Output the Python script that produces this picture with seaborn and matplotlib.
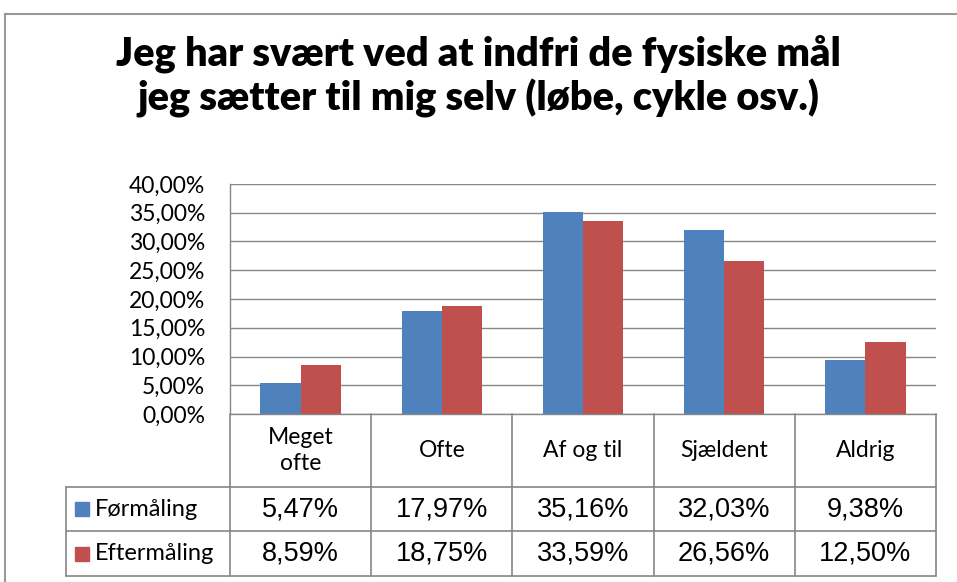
import matplotlib
matplotlib.use('Agg')
import matplotlib.pyplot as plt
from matplotlib.patches import Rectangle
import pandas as pd
import seaborn as sns

# Data
categories = ['Meget\nofte', 'Ofte', 'Af og til', 'Sjældent', 'Aldrig']
foermaaling = [5.47, 17.97, 35.16, 32.03, 9.38]
eftermaaling = [8.59, 18.75, 33.59, 26.56, 12.50]
series = ['Førmåling', 'Eftermåling']
colors = ['#4F81BD', '#C0504D']
title = 'Jeg har svært ved at indfri de fysiske mål\njeg sætter til mig selv (løbe, cykle osv.)'

df = pd.DataFrame({
    'kategori': categories * 2,
    'værdi': foermaaling + eftermaaling,
    'måling': [series[0]] * len(categories) + [series[1]] * len(categories),
})

sns.set_style('white')
plt.rcParams['font.family'] = ['Lato', 'DejaVu Sans']
plt.rcParams['text.color'] = 'black'
plt.rcParams['ytick.color'] = 'black'

grid_col = '#868686'
fig = plt.figure(figsize=(9.57, 5.82), dpi=100)
ax = fig.add_axes([230 / 957, 1 - 414 / 582, 706 / 957, 230 / 582])

sns.barplot(data=df, x='kategori', y='værdi', hue='måling', palette=colors,
            width=0.57, saturation=1, linewidth=0, legend=False, ax=ax)

ax.set_ylim(0, 40)
ax.set_xlim(-0.5, len(categories) - 0.5)
ax.set_yticks(range(0, 41, 5))
ax.set_yticklabels([f'{v:.2f}'.replace('.', ',') + '%' for v in range(0, 41, 5)], fontsize=16.5)
ax.tick_params(axis='y', length=0, pad=18, labelcolor='black')
ax.set_xticks([])
ax.set_xlabel('')
ax.set_ylabel('')
ax.yaxis.grid(True, color=grid_col, linewidth=1)
ax.set_axisbelow(True)
for side in ['top', 'right']:
    ax.spines[side].set_visible(False)
for side in ['left', 'bottom']:
    ax.spines[side].set_color(grid_col)
    ax.spines[side].set_linewidth(1)

# Data table below the plot (x in data units, y in axes units)
tr = ax.get_xaxis_transform()
unit_px = 706 / len(categories)
left_x = -0.5 - 164 / unit_px
rows_y = [0, -73 / 230, -117 / 230, -162 / 230]
n = len(categories)
for i in range(n + 1):
    ax.plot([i - 0.5, i - 0.5], [0, rows_y[3]], color=grid_col, lw=1.2,
            transform=tr, clip_on=False)
for y in rows_y[1:]:
    ax.plot([left_x, n - 0.5], [y, y], color=grid_col, lw=1.2,
            transform=tr, clip_on=False)
ax.plot([left_x, left_x], [rows_y[1], rows_y[3]], color=grid_col, lw=1.2,
        transform=tr, clip_on=False)

cat_y = (rows_y[0] + rows_y[1]) / 2
for i, c in enumerate(categories):
    ax.text(i, cat_y, c, transform=tr, ha='center', va='center',
            fontsize=16.5, linespacing=1.35)

for r, (name, vals, col) in enumerate(zip(series, [foermaaling, eftermaaling], colors)):
    y = (rows_y[r + 1] + rows_y[r + 2]) / 2
    for i, v in enumerate(vals):
        ax.text(i, y, f'{v:.2f}'.replace('.', ',') + '%', transform=tr,
                ha='center', va='center', fontsize=19.5, family='Liberation Sans')
    ax.plot([-0.5 - 148.5 / unit_px], [y], marker='s', markersize=9.5, color=col,
            transform=tr, clip_on=False, linestyle='none')
    ax.text(-0.5 - 135 / unit_px, y, name, transform=tr, ha='left', va='center',
            fontsize=17)

# Chart title and outer border
fig.text(0.5, 1 - 76 / 582, title, ha='center', va='center', fontsize=28.5,
         fontweight='heavy', linespacing=1.2)
fig.add_artist(Rectangle((5 / 957, -0.1), 1.1, 1 - 14 / 582 + 0.1,
                         transform=fig.transFigure, fill=False,
                         edgecolor='#999999', lw=1.5))

fig.savefig('out.png', dpi=100)
